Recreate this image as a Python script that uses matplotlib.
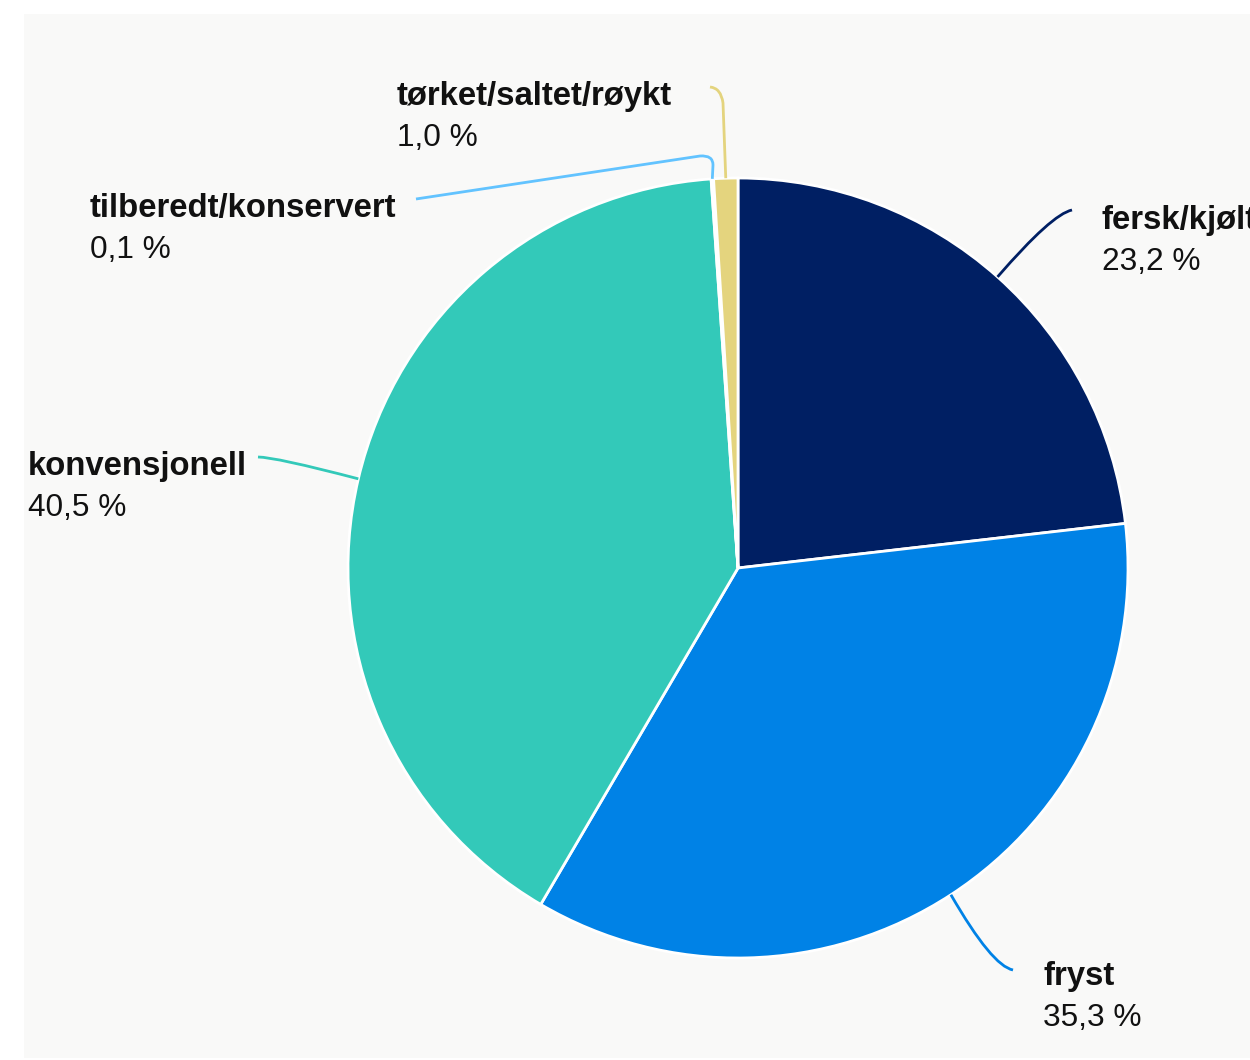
import numpy as np
import matplotlib.pyplot as plt
from matplotlib.path import Path
from matplotlib.patches import PathPatch, Rectangle

# Data
labels = ["fersk/kjølt", "fryst", "konvensjonell", "tilberedt/konservert", "tørket/saltet/røykt"]
values = [23.2, 35.3, 40.5, 0.1, 1.0]
value_labels = ["23,2 %", "35,3 %", "40,5 %", "0,1 %", "1,0 %"]
colors = ["#001f63", "#0082e6", "#33c9b9", "#62c3ff", "#e4d47e"]

W, H = 1250, 1060
plt.rcParams['font.family'] = ['Liberation Sans', 'DejaVu Sans']

fig = plt.figure(figsize=(W / 100, H / 100), dpi=100)
ax = fig.add_axes([0, 0, 1, 1])


def Y(y):
    # pixel row -> data y
    return H - y


# grey panel
ax.add_patch(Rectangle((24, Y(1058)), W, 1058 - 14, facecolor="#f9f9f8", edgecolor="none", zorder=0))

cx, cy, r = 738, Y(568), 390
wedges, _ = ax.pie(values, colors=colors, startangle=90, counterclock=False,
                   center=(cx, cy), radius=r,
                   wedgeprops=dict(edgecolor="white", linewidth=2))
ax.set_xlim(0, W)
ax.set_ylim(0, H)
ax.set_aspect("equal")
ax.axis("off")


def edge_point(w):
    a = np.deg2rad((w.theta1 + w.theta2) / 2)
    return cx + r * np.cos(a), cy + r * np.sin(a)


# connector layout (pixel coords after the edge point), label anchor
# the fersk/kjølt label runs off the right edge, as in the original
layout = [
    dict(path=[("C3", (1052, 214)), ("C3", (1072, 210))], text=(1102, 229)),
    dict(path=[("C3", (992, 966)), ("C3", (1013, 970))], text=(1043, 985)),
    dict(path=[("C3", (275, 457)), ("C3", (258, 457))], text=(28, 475)),
    dict(path=[("L", (713, 165)), ("C3", (713, 155)), ("C3", (700, 156)), ("L", (416, 199))], text=(90, 217)),
    dict(path=[("L", (723, 103)), ("C3", (721, 88)), ("C3", (710, 87))], text=(397, 105)),
]

for w, lab, val, col, lay in zip(wedges, labels, value_labels, colors, layout):
    x0, y0 = edge_point(w)
    verts = [(x0, y0)]
    codes = [Path.MOVETO]
    for kind, (px, py) in lay["path"]:
        verts.append((px, Y(py)))
        codes.append(Path.LINETO if kind == "L" else Path.CURVE3)
    ax.add_patch(PathPatch(Path(verts, codes), facecolor="none", edgecolor=col, lw=2, zorder=3))
    tx, ty = lay["text"]
    ax.text(tx, Y(ty), lab, fontsize=23.7, fontweight="bold", color="#111111", va="baseline", ha="left")
    ax.text(tx, Y(ty + 41), val, fontsize=22.8, color="#111111", va="baseline", ha="left")

fig.savefig("out.png", dpi=100)
